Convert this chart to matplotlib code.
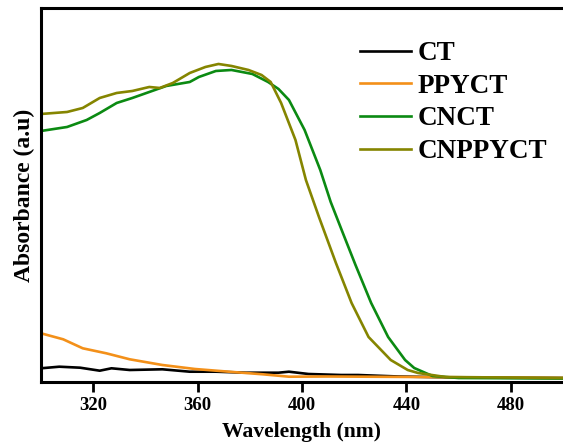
import numpy as np
import matplotlib
matplotlib.use("Agg")
import matplotlib.pyplot as plt

plt.rcParams['font.family'] = ['Liberation Serif', 'DejaVu Serif']
plt.rcParams['font.weight'] = 'bold'

# UV-vis absorbance (arbitrary units)
ct_x = [300, 307, 315, 322.5, 327, 334, 346.5, 357, 367, 378.5, 391, 395, 402.5, 415, 421.5, 437, 460, 500]
ct_y = [13.7, 15.3, 14.3, 11.3, 13.7, 12, 12.7, 10.3, 10.3, 9.3, 9.3, 10.3, 8, 7, 7, 5.5, 4.5, 4]

ppy_x = [300, 308.5, 316, 325, 334, 346.5, 359, 372, 385, 395, 410, 445, 500]
ppy_y = [48.7, 42.7, 33.7, 28.7, 22.7, 17, 13, 10.3, 7.7, 5.3, 5.5, 5, 4]

cn_x = [300, 310, 317.5, 322.5, 329, 335, 341.5, 348, 357, 360.5, 367, 373, 381, 387, 391, 395,
        401, 407, 411, 415.5, 420.5, 426.5, 433, 439.5, 443, 450, 460, 500]
cn_y = [251, 255, 262, 269, 279, 284, 290, 296, 300, 305, 311, 312, 308, 300, 293, 282,
        252, 212, 180, 150, 117, 79, 45, 22, 14, 6, 4, 3.5]

cnppy_x = [300, 310, 316, 322.5, 329, 335, 341.5, 345.5, 350.5, 357, 363, 368, 373, 379.5, 384.5, 388,
           392, 397.5, 401.5, 406.5, 413, 419, 425.5, 434, 440.5, 444.5, 455, 500]
cnppy_y = [268, 270, 274, 284, 289, 291, 295, 294, 299, 309, 315, 318, 316, 312, 307, 300,
           279, 242, 202, 165, 119, 79, 45, 22, 12, 9, 5, 4]

labels = ['CT', 'PPYCT', 'CNCT', 'CNPPYCT']
colors = ['#000000', '#f39019', '#0b8a12', '#858500']

fig = plt.figure(figsize=(5.63, 4.43), dpi=100)
ax = fig.add_axes([0.0728, 0.1377, 0.9272, 0.8443])

series = [(ct_x, ct_y), (ppy_x, ppy_y), (cn_x, cn_y), (cnppy_x, cnppy_y)]
for (x, y), lab, c in zip(series, labels, colors):
    ax.plot(x, y, color=c, lw=1.9, label=lab)

ax.set_xlim(300, 500)
ax.set_ylim(0, 374)
ax.set_xticks([320, 360, 400, 440, 480])
ax.set_yticks([])
ax.tick_params(axis='x', direction='out', length=7, width=2, labelsize=13.5, pad=4)
for s in ['left', 'top', 'bottom']:
    ax.spines[s].set_linewidth(2.2)
ax.spines['right'].set_visible(False)

ax.set_xlabel('Wavelength (nm)', fontsize=15.6, fontweight='bold', labelpad=5.5)
ax.set_ylabel('Absorbance (a.u)', fontsize=17, fontweight='bold', labelpad=4.5)

leg = ax.legend(loc='upper left', bbox_to_anchor=(0.59, 0.94), frameon=False,
                fontsize=19.5, handlelength=1.9, handletextpad=0.25, labelspacing=0.28,
                borderaxespad=0)
for t in leg.get_texts():
    t.set_fontweight('bold')

fig.savefig('out.png', dpi=100)
